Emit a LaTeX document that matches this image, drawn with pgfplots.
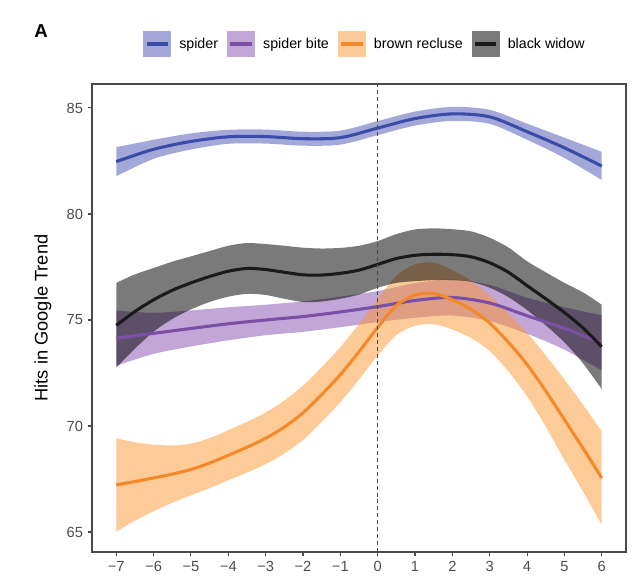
\documentclass[border=0pt]{standalone}
\usepackage{pgfplots}
\pgfplotsset{compat=1.18}
\usepackage{pgfplotstable}
\usepgfplotslibrary{fillbetween}
\usepackage{fontspec}
\setmainfont{Liberation Sans}

\definecolor{spiderln}{HTML}{3A4CA8}
\definecolor{spiderfl}{HTML}{4751B1}
\definecolor{biteln}{HTML}{7A4FA6}
\definecolor{bitefl}{HTML}{874DB1}
\definecolor{brownln}{HTML}{F5892A}
\definecolor{brownfl}{HTML}{FB972F}
\definecolor{blackln}{HTML}{1A1A1A}
\definecolor{axisgrey}{HTML}{4A4A4A}
\definecolor{labelgrey}{HTML}{4D4D4D}

% x  fit  lower  upper
\pgfplotstableread{
x    y     lo    hi
-7   82.47 81.78 83.15
-6   83.05 82.60 83.50
-5   83.42 83.04 83.80
-4   83.64 83.31 83.97
-3   83.65 83.32 83.98
-2   83.55 83.22 83.88
-1   83.60 83.27 83.93
0    84.05 83.72 84.38
1    84.50 84.17 84.83
2    84.72 84.39 85.05
3    84.58 84.25 84.91
4    83.88 83.50 84.26
5    83.12 82.64 83.60
6    82.26 81.60 82.93
}\spider

\pgfplotstableread{
x    y     lo    hi
-7   74.14 72.84 75.44
-6   74.37 73.40 75.34
-5   74.60 73.75 75.45
-4   74.82 74.04 75.60
-3   75.00 74.28 75.72
-2   75.16 74.44 75.88
-1   75.38 74.66 76.10
0    75.63 74.90 76.36
1    75.92 75.10 76.74
2    76.06 75.21 76.91
3    75.80 74.95 76.65
4    75.20 74.35 76.05
5    74.60 73.60 75.60
6    73.92 72.62 75.22
}\bite

\pgfplotstableread{
x    y     lo    hi
-7   67.22 65.02 69.42
-6.5 67.38 65.53 69.23
-6   67.55 65.98 69.12
-5.5 67.73 66.38 69.08
-5   67.95 66.73 69.17
-4.5 68.25 67.07 69.43
-4   68.62 67.44 69.80
-3.5 69.00 67.80 70.20
-3   69.42 68.20 70.64
-2.5 69.95 68.70 71.20
-2   70.62 69.34 71.90
-1.5 71.48 70.19 72.77
-1   72.42 71.12 73.72
-0.5 73.50 72.19 74.81
0    74.65 73.32 75.98
0.5  75.68 74.28 77.08
1    76.18 74.73 77.63
1.5  76.25 74.80 77.70
2    75.95 74.55 77.35
2.5  75.50 74.15 76.85
3    74.85 73.53 76.17
3.5  73.95 72.57 75.33
4    72.90 71.40 74.40
4.5  71.65 69.97 73.33
5    70.30 68.40 72.20
5.5  68.95 66.90 71.00
6    67.55 65.33 69.75
}\brown

\pgfplotstableread{
x    y     lo    hi
-7   74.75 72.75 76.75
-6.5 75.40 73.65 77.15
-6   75.95 74.45 77.45
-5.5 76.40 75.05 77.75
-5   76.75 75.50 78.00
-4.5 77.05 75.85 78.25
-4   77.30 76.10 78.50
-3.5 77.43 76.23 78.63
-3   77.38 76.18 78.58
-2.5 77.25 76.00 78.50
-2   77.13 75.85 78.41
-1.5 77.12 75.87 78.37
-1   77.20 76.00 78.40
-0.5 77.35 76.20 78.50
0    77.62 76.52 78.72
0.5  77.90 76.75 79.05
1    78.05 76.83 79.27
1.5  78.10 76.88 79.32
2    78.08 76.88 79.28
2.5  77.98 76.80 79.18
3    77.70 76.52 78.88
3.5  77.25 76.08 78.42
4    76.62 75.47 77.77
4.5  76.00 74.75 77.25
5    75.35 73.95 76.75
5.5  74.62 72.95 76.30
6    73.74 71.74 75.72
}\widow

\begin{document}
\begin{tikzpicture}
\begin{axis}[
  scale only axis, width=400.5pt, height=351pt,
  xmin=-7.65, xmax=6.65, ymin=64.057, ymax=86.13,
  xtick={-7,-6,-5,-4,-3,-2,-1,0,1,2,3,4,5,6},
  xticklabels={−7,−6,−5,−4,−3,−2,−1,0,1,2,3,4,5,6},
  ytick={65,70,75,80,85}, yticklabels={65,70,75,80,85},
  tick align=outside, xtick pos=left, ytick pos=left,
  major tick length=3.2pt,
  tick style={color=axisgrey, line width=0.8pt},
  axis line style={color=axisgrey, line width=0.8pt},
  ticklabel style={font=\fontsize{11}{13}\selectfont, text=labelgrey},
  ylabel={Hits in Google Trend},
  ylabel style={at={(axis description cs:-0.0918,0.5)}, anchor=center, font=\fontsize{13.7}{16}\selectfont},
  clip=false,
  legend columns=4, legend cell align=left,
  legend style={at={(axis description cs:0.0955,1.0855)}, anchor=west, draw=none, fill=none,
    inner sep=0pt, font=\fontsize{10.7}{12}\selectfont, nodes={inner sep=0pt},
    /tikz/every odd column/.append style={column sep=6pt},
    /tikz/every even column/.append style={column sep=6.75pt}},
]
% spider
\addplot[name path=sU, draw=none, smooth, forget plot] table[x=x,y=hi]{\spider};
\addplot[name path=sL, draw=none, smooth, forget plot] table[x=x,y=lo]{\spider};
\addplot[fill=spiderfl, fill opacity=0.5, draw=none, forget plot] fill between[of=sU and sL];
\addplot[spiderln, line width=2.3pt, smooth, forget plot] table[x=x,y=y]{\spider};
% spider bite
\addplot[name path=bU, draw=none, smooth, forget plot] table[x=x,y=hi]{\bite};
\addplot[name path=bL, draw=none, smooth, forget plot] table[x=x,y=lo]{\bite};
\addplot[fill=bitefl, fill opacity=0.5, draw=none, forget plot] fill between[of=bU and bL];
\addplot[biteln, line width=2.3pt, smooth, forget plot] table[x=x,y=y]{\bite};
% brown recluse
\addplot[name path=rU, draw=none, smooth, forget plot] table[x=x,y=hi]{\brown};
\addplot[name path=rL, draw=none, smooth, forget plot] table[x=x,y=lo]{\brown};
\addplot[fill=brownfl, fill opacity=0.5, draw=none, forget plot] fill between[of=rU and rL];
\addplot[brownln, line width=2.3pt, smooth, forget plot] table[x=x,y=y]{\brown};
% black widow
\addplot[name path=wU, draw=none, smooth, forget plot] table[x=x,y=hi]{\widow};
\addplot[name path=wL, draw=none, smooth, forget plot] table[x=x,y=lo]{\widow};
\addplot[fill=black, fill opacity=0.52, draw=none, forget plot] fill between[of=wU and wL];
\addplot[blackln, line width=2.3pt, smooth, forget plot] table[x=x,y=y]{\widow};
% zero line
\addplot[axisgrey, line width=0.6pt, dash pattern=on 3pt off 2.2pt, forget plot] coordinates {(0,64.057) (0,86.13)};

\addlegendimage{legend image code/.code={\fill[spiderfl, fill opacity=0.5, draw=none] (0pt,-10.1pt) rectangle (21pt,10.1pt); \draw[spiderln, line width=2.3pt] (2.5pt,0pt) -- (18.5pt,0pt);}}
\addlegendentry{spider}
\addlegendimage{legend image code/.code={\fill[bitefl, fill opacity=0.5, draw=none] (0pt,-10.1pt) rectangle (21pt,10.1pt); \draw[biteln, line width=2.3pt] (2.5pt,0pt) -- (18.5pt,0pt);}}
\addlegendentry{spider bite}
\addlegendimage{legend image code/.code={\fill[brownfl, fill opacity=0.5, draw=none] (0pt,-10.1pt) rectangle (21pt,10.1pt); \draw[brownln, line width=2.3pt] (2.5pt,0pt) -- (18.5pt,0pt);}}
\addlegendentry{brown recluse}
\addlegendimage{legend image code/.code={\fill[black, fill opacity=0.52, draw=none] (0pt,-10.1pt) rectangle (21pt,10.1pt); \draw[blackln, line width=2.3pt] (2.5pt,0pt) -- (18.5pt,0pt);}}
\addlegendentry{black widow}

\node[font=\bfseries\fontsize{14}{16}\selectfont, anchor=center] at (axis description cs:-0.0955,1.1132) {A};
\end{axis}
\pgfresetboundingbox
\path[use as bounding box] (-69pt,-24.75pt) rectangle (410.25pt,414pt);
\end{tikzpicture}
\end{document}
